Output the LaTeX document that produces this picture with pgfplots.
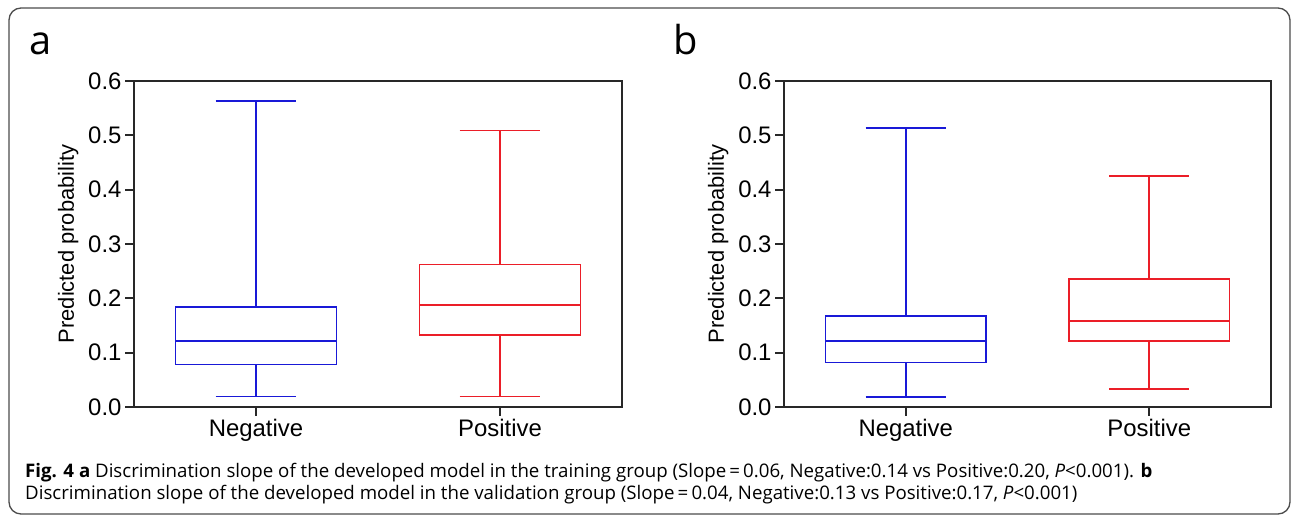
\documentclass[border=0pt]{standalone}
\usepackage{fontspec}
\setmainfont{Liberation Sans}
\newfontfamily\opensans{Open Sans}
\usepackage{pgfplots}
\pgfplotsset{compat=1.18}
\usepgfplotslibrary{statistics}
\definecolor{bblue}{RGB}{25,25,215}
\definecolor{rred}{RGB}{235,30,40}
\definecolor{axgray}{RGB}{40,40,40}
\pgfplotsset{
  /pgf/number format/assume math mode=true,
  myaxis/.style={
    scale only axis, width=488bp, height=326bp,
    xmin=-0.5, xmax=1.5, ymin=0, ymax=0.6,
    xtick={0,1}, xticklabels={Negative,Positive},
    ytick={0,0.1,0.2,0.3,0.4,0.5,0.6},
    yticklabel style={/pgf/number format/.cd,fixed,fixed zerofill,precision=1},
    ticklabel style={font=\fontsize{24}{26}\selectfont},
    tick align=outside, tick pos=left,
    major tick length=9bp,
    axis line style={line width=1.8bp, axgray},
    every tick/.style={line width=1.8bp, axgray},
    ylabel={Predicted probability},
    every axis y label/.style={at={(axis description cs:-0.135,0.5)}, rotate=90, anchor=center, font=\fontsize{22}{24}\selectfont},
    boxplot/draw direction=y,
    boxplot/box extend=0.66,
    boxplot/whisker extend=0.33,
  }
}
\begin{document}
\begin{tikzpicture}[x=1bp,y=1bp]
\path[use as bounding box] (0,0) rectangle (1293,517);
\draw[line width=1.3bp, black!70, rounded corners=12bp] (9,3) rectangle (1290,509);
\node[anchor=base west, inner sep=0pt, font=\opensans\fontsize{40}{44}\selectfont] at (29,462) {a};
\node[anchor=base west, inner sep=0pt, font=\opensans\fontsize{40}{44}\selectfont] at (673,462) {b};

\begin{axis}[myaxis, at={(134bp,110bp)}, anchor=south west]
\addplot[draw=bblue, line width=1.6bp, boxplot prepared={draw position=0, lower whisker=0.019, lower quartile=0.078, median=0.122, upper quartile=0.184, upper whisker=0.563}] coordinates {};
\addplot[draw=rred, line width=1.6bp, boxplot prepared={draw position=1, lower whisker=0.019, lower quartile=0.132, median=0.1875, upper quartile=0.262, upper whisker=0.509}] coordinates {};
\end{axis}

\begin{axis}[myaxis, width=487bp, at={(784bp,110bp)}, anchor=south west]
\addplot[draw=bblue, line width=1.6bp, boxplot prepared={draw position=0, lower whisker=0.018, lower quartile=0.082, median=0.121, upper quartile=0.167, upper whisker=0.513}] coordinates {};
\addplot[draw=rred, line width=1.6bp, boxplot prepared={draw position=1, lower whisker=0.033, lower quartile=0.122, median=0.158, upper quartile=0.236, upper whisker=0.425}] coordinates {};
\end{axis}

\node[anchor=base west, inner sep=0pt, font=\opensans\fontsize{18.75}{22}\selectfont] at (25,39) {\textbf{Fig. 4 a} Discrimination slope of the developed model in the training group (Slope\,=\,0.06, Negative:0.14 vs Positive:0.20, \textit{P}<0.001). \textbf{b}};
\node[anchor=base west, inner sep=0pt, font=\opensans\fontsize{18.75}{22}\selectfont] at (25,17) {Discrimination slope of the developed model in the validation group (Slope\,=\,0.04, Negative:0.13 vs Positive:0.17, \textit{P}<0.001)};
\end{tikzpicture}
\end{document}
